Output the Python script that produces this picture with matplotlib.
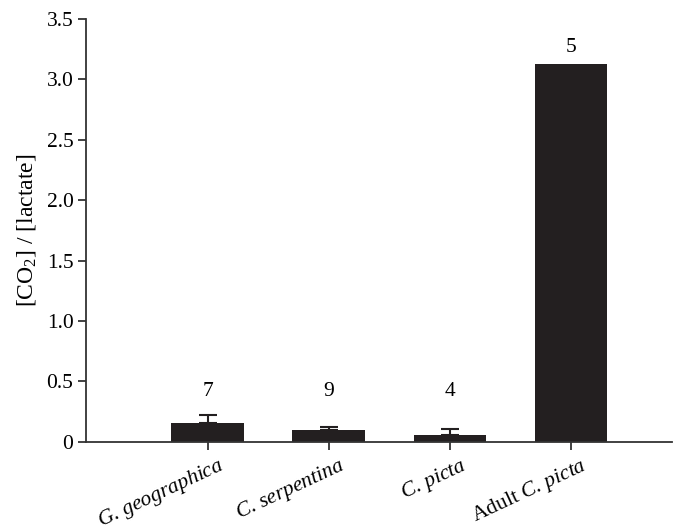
import matplotlib
matplotlib.use("Agg")
import matplotlib.pyplot as plt
from matplotlib.transforms import ScaledTranslation

plt.rcParams["font.family"] = ["Liberation Serif", "DejaVu Serif"]
plt.rcParams["mathtext.fontset"] = "custom"
plt.rcParams["mathtext.rm"] = "Liberation Serif"
plt.rcParams["mathtext.it"] = "Liberation Serif:italic"

labels = [r"$\mathit{G.\,geographica}$", r"$\mathit{C.\,serpentina}$",
          r"$\mathit{C.\,picta}$", r"Adult $\mathit{C.\,picta}$"]
values = [0.152, 0.099, 0.058, 3.124]
errors = [0.072, 0.025, 0.044, 0.0]
counts = ["7", "9", "4", "5"]

dark = "#231f20"
fs = 15.5
fig = plt.figure(figsize=(6.77, 5.29), dpi=100)
ax = fig.add_axes([0.127, 0.165, 0.866, 0.799])

x = list(range(len(values)))
ax.bar(x, values, width=0.6, color=dark, zorder=2)
# error bars only where there is a spread
ex = [xi for xi, e in zip(x, errors) if e > 0]
ev = [v for v, e in zip(values, errors) if e > 0]
ee = [e for e in errors if e > 0]
ax.errorbar(ex, ev, yerr=[[0] * len(ee), ee], fmt="none",
            ecolor=dark, elinewidth=1.5, capsize=6.5, capthick=1.5, zorder=1)

for xi, v, e, c in zip(x, values, errors, counts):
    ax.text(xi, max(0.375, v + e + 0.1), c, ha="center", va="baseline", fontsize=fs)

ax.set_xlim(-1.004, 3.835)
ax.set_ylim(0, 3.5)
ax.set_yticks([0, 0.5, 1.0, 1.5, 2.0, 2.5, 3.0, 3.5])
ax.set_yticklabels(["0", "0.5", "1.0", "1.5", "2.0", "2.5", "3.0", "3.5"])
ax.set_xticks(x)
ax.set_xticklabels([])
# rotated category labels, anchored just right of and below each tick
off = ax.get_xaxis_transform() + ScaledTranslation(0.10, -0.13, fig.dpi_scale_trans)
for xi, lab in zip(x, labels):
    ax.text(xi, 0, lab, transform=off, rotation=25, ha="right", va="top",
            rotation_mode="anchor", fontsize=fs)
ax.set_ylabel(r"[CO$_2$] / [lactate]", fontsize=17, labelpad=6)

for s in ["top", "right"]:
    ax.spines[s].set_visible(False)
for s in ["left", "bottom"]:
    ax.spines[s].set_color("#333333")
    ax.spines[s].set_linewidth(1.3)
ax.tick_params(axis="both", direction="out", length=5.5, width=1.3,
               color="#333333", labelsize=fs)
ax.tick_params(axis="y", pad=3.5)

fig.savefig("out.png", dpi=100)
